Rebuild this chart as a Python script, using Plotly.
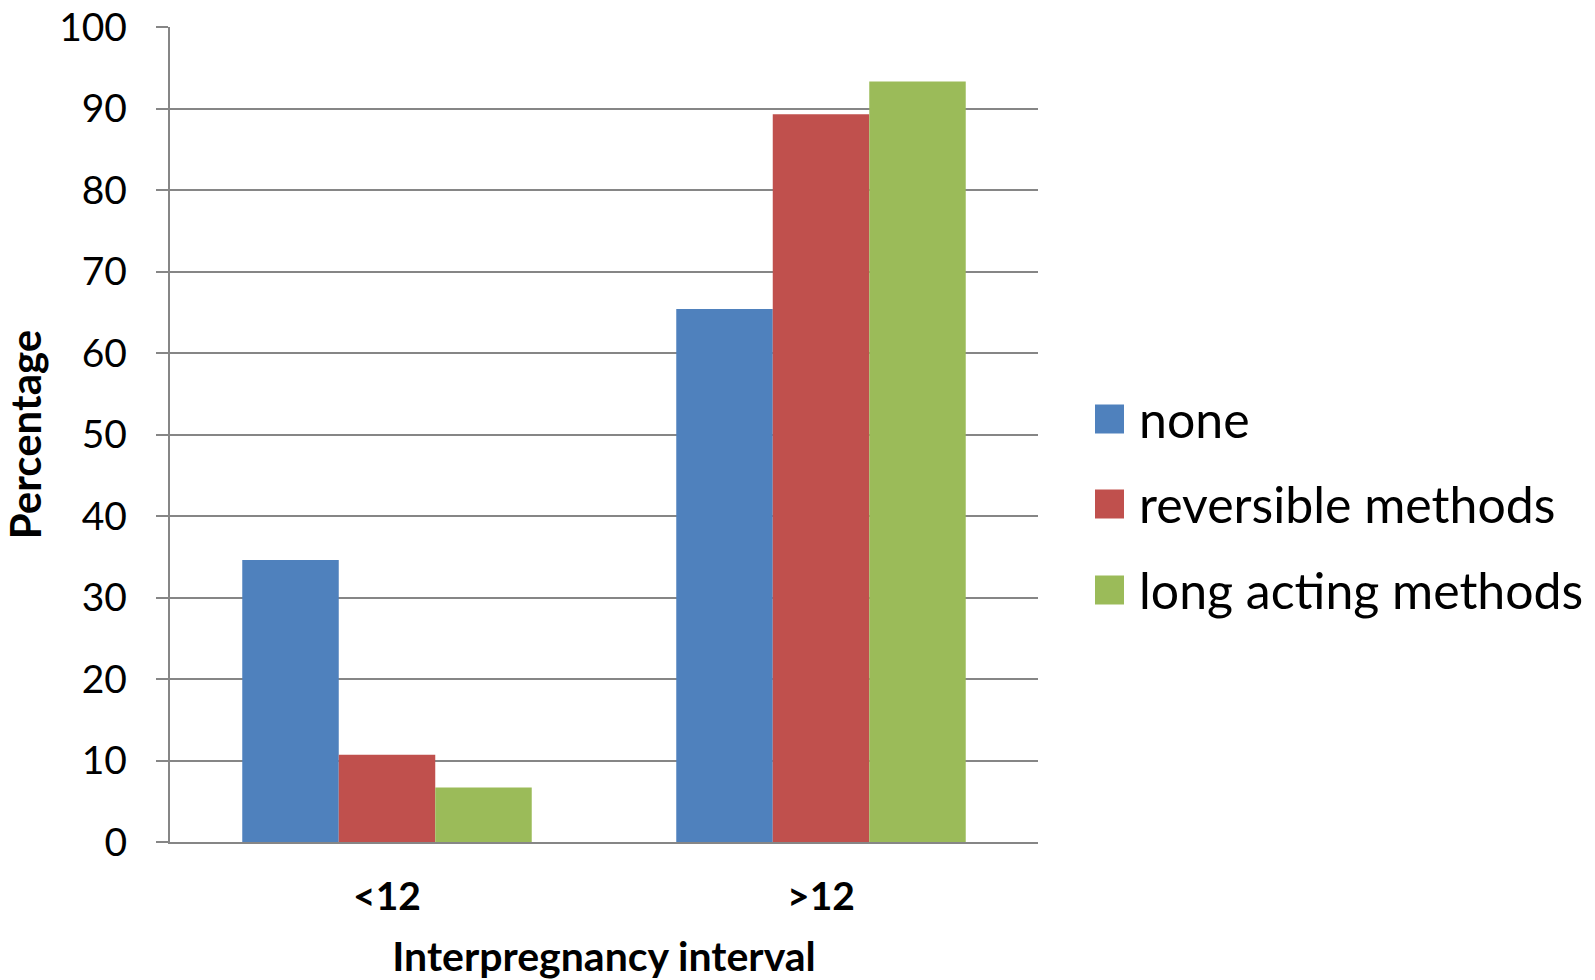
import plotly.graph_objects as go

# Share of births by interpregnancy interval (months) for each contraceptive group
categories = ["<12", ">12"]
series_names = ["none", "reversible methods", "long acting methods"]
none_vals = [34.6, 65.4]
reversible_vals = [10.7, 89.3]
long_acting_vals = [6.7, 93.3]
colors = ["#4F81BD", "#C0504D", "#9BBB59"]
y_ticks = [0, 10, 20, 30, 40, 50, 60, 70, 80, 90, 100]

FONT = "Lato, Calibri, 'Liberation Sans', sans-serif"
GRID = "#868686"

fig = go.Figure()
for name, vals, col in zip(series_names, [none_vals, reversible_vals, long_acting_vals], colors):
    fig.add_trace(go.Bar(
        x=categories, y=vals, name=name,
        marker=dict(color=col, line=dict(width=0)),
        showlegend=False,
    ))

# Legend drawn as square swatches with labels to the right of the plot
W, H = 1595, 980
L, R, T, B = 170, 557, 27, 138
pw, ph = W - L - R, H - T - B
sw = 29
sw_left = 1095
text_left = 1137
centers = [419, 504, 590]
for name, col, cy in zip(series_names, colors, centers):
    fig.add_shape(
        type="rect", xref="paper", yref="paper",
        x0=(sw_left - L) / pw, x1=(sw_left + sw - L) / pw,
        y0=(H - B - (cy + sw / 2)) / ph, y1=(H - B - (cy - sw / 2)) / ph,
        fillcolor=col, line=dict(width=0),
    )
    fig.add_annotation(
        xref="paper", yref="paper",
        x=(text_left - L) / pw, y=(H - B - cy) / ph,
        text=name, showarrow=False, xanchor="left", yanchor="middle",
        font=dict(family=FONT, size=50, color="black"),
    )

fig.update_layout(
    width=W, height=H,
    margin=dict(l=L, r=R, t=T, b=B),
    paper_bgcolor="white", plot_bgcolor="white",
    barmode="group", bargap=0.333, bargroupgap=0,
    font=dict(family=FONT, color="black"),
)
fig.update_xaxes(
    showgrid=False, showline=True, linecolor=GRID, linewidth=2,
    ticks="", tickfont=dict(family=FONT, size=39, color="black", weight="bold"),
    ticklabelstandoff=19,
    title=dict(text="<b>Interpregnancy interval</b>", font=dict(family=FONT, size=41, color="black"), standoff=27),
    automargin=False,
)
fig.update_yaxes(
    range=[0, 100], tickvals=y_ticks,
    showgrid=True, gridcolor=GRID, gridwidth=2.4,
    showline=True, linecolor=GRID, linewidth=2.4,
    ticks="outside", ticklen=12, tickcolor=GRID, tickwidth=2.4,
    tickfont=dict(family=FONT, size=39, color="black"),
    ticklabelstandoff=21,
    zeroline=False,
    title=dict(text="<b>Percentage</b>", font=dict(family=FONT, size=42, color="black"), standoff=10),
    automargin=False,
)

fig.write_html("out.html")
